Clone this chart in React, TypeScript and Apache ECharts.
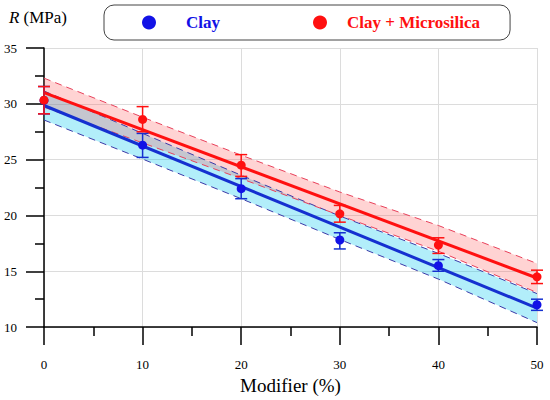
import React, { useEffect, useRef } from "react";
import * as echarts from "echarts";

const modifier = [0, 10, 20, 30, 40, 50];

const clayR = [30.3, 26.3, 22.4, 17.8, 15.5, 12.0];
const clayErrLow = [29.1, 25.2, 21.5, 17.0, 15.0, 11.5];
const clayErrHigh = [31.55, 27.35, 23.3, 18.45, 16.05, 12.5];

const silicaR = [30.33, 28.6, 24.5, 20.15, 17.35, 14.5];
const silicaErrLow = [29.1, 27.5, 23.5, 19.4, 16.6, 13.9];
const silicaErrHigh = [31.55, 29.75, 25.45, 20.9, 18.0, 15.1];

const clayFitEnds = [29.85, 11.7];
const silicaFitEnds = [31.0, 14.4];

const clayBandLow = [28.55, 25.05, 21.5, 17.85, 14.3, 10.4];
const clayBandHigh = [31.15, 27.35, 23.6, 19.95, 16.6, 13.0];
const silicaBandLow = [29.7, 26.5, 23.3, 20.0, 16.8, 13.1];
const silicaBandHigh = [32.3, 28.8, 25.4, 22.1, 19.1, 15.7];

const xTicks = { min: 0, max: 50, interval: 10 };
const yTicks = { min: 10, max: 35, interval: 5 };

const BLUE = "#1212e6";
const BLUE_LINE = "#1530d0";
const RED = "#ff1010";
const FONT = "Liberation Serif";

function pairs(ys: number[]) {
  return modifier.map((x, i) => [x, ys[i]]);
}

function bandSeries(low: number[], high: number[], fill: string) {
  return {
    type: "custom",
    silent: true,
    data: modifier.map((x, i) => [x, low[i], high[i]]),
    encode: { x: 0, y: [1, 2] },
    renderItem: (params: any, api: any) => {
      if (params.dataIndex !== 0) return null;
      const top = modifier.map((x, i) => api.coord([x, high[i]]));
      const bot = modifier.map((x, i) => api.coord([x, low[i]])).reverse();
      return {
        type: "polygon",
        shape: { points: top.concat(bot) },
        style: { fill },
      };
    },
    z: 1,
  };
}

function dashed(ys: number[], color: string) {
  return {
    type: "line",
    data: pairs(ys),
    symbol: "none",
    silent: true,
    lineStyle: { color, width: 1, type: [7, 5] },
    z: 2,
  };
}

function fit(ends: number[], color: string) {
  return {
    type: "line",
    data: [
      [modifier[0], ends[0]],
      [modifier[modifier.length - 1], ends[1]],
    ],
    symbol: "none",
    silent: true,
    lineStyle: { color, width: 3 },
    z: 3,
  };
}

function errorBars(low: number[], high: number[], color: string) {
  return {
    type: "custom",
    silent: true,
    data: modifier.map((x, i) => [x, low[i], high[i]]),
    encode: { x: 0, y: [1, 2] },
    renderItem: (params: any, api: any) => {
      const x = api.value(0);
      const lo = api.coord([x, api.value(1)]);
      const hi = api.coord([x, api.value(2)]);
      const hw = 6;
      const style = { stroke: color, lineWidth: 1.5 };
      return {
        type: "group",
        children: [
          { type: "line", shape: { x1: lo[0], y1: lo[1], x2: hi[0], y2: hi[1] }, style },
          { type: "line", shape: { x1: hi[0] - hw, y1: hi[1], x2: hi[0] + hw, y2: hi[1] }, style },
          { type: "line", shape: { x1: lo[0] - hw, y1: lo[1], x2: lo[0] + hw, y2: lo[1] }, style },
        ],
      };
    },
    z: 4,
  };
}

export default function App() {
  const ref = useRef<HTMLDivElement>(null);
  useEffect(() => {
    if (!ref.current) return;
    const chart = echarts.init(ref.current, undefined, { renderer: "svg" });
    const axisCommon = {
      axisLine: { show: true, onZero: false, lineStyle: { color: "#000", width: 1.5 } },
      axisTick: { show: true, inside: false, length: 18, lineStyle: { color: "#000", width: 1.5 } },
      minorTick: { show: true, splitNumber: 2, length: 9, lineStyle: { color: "#000", width: 1.5 } },
      splitLine: { show: true, lineStyle: { color: "#dcdcdc", width: 1 } },
    };
    chart.setOption({
      animation: false,
      textStyle: { fontFamily: FONT },
      grid: { left: 44, right: 13, top: 48, bottom: 71 },
      legend: {
        left: 104,
        top: 5,
        orient: "horizontal",
        padding: [9, 30, 9, 38],
        itemGap: 93,
        itemWidth: 14,
        itemHeight: 14,
        borderColor: "#444",
        borderWidth: 1,
        borderRadius: 10,
        selectedMode: false,
        data: [
          {
            name: "Clay",
            icon: "circle",
            itemStyle: { color: BLUE, opacity: 1 },
            textStyle: { color: BLUE, fontWeight: "bold", fontSize: 17, fontFamily: FONT, padding: [0, 0, 0, 25] },
          },
          {
            name: "Clay + Microsilica",
            icon: "circle",
            itemStyle: { color: RED, opacity: 1 },
            textStyle: { color: RED, fontWeight: "bold", fontSize: 17, fontFamily: FONT, padding: [0, 0, 0, 15] },
          },
        ],
      },
      xAxis: {
        type: "value",
        min: xTicks.min,
        max: xTicks.max,
        interval: xTicks.interval,
        name: "Modifier (%)",
        nameLocation: "middle",
        nameGap: 57,
        nameTextStyle: { fontSize: 19, color: "#000", fontFamily: FONT, verticalAlign: "middle" },
        axisLabel: { fontSize: 13, color: "#000", margin: 31, fontFamily: FONT },
        ...axisCommon,
      },
      yAxis: {
        type: "value",
        min: yTicks.min,
        max: yTicks.max,
        interval: yTicks.interval,
        name: "{i|R} (MPa)",
        nameLocation: "end",
        nameGap: 31,
        nameTextStyle: {
          fontSize: 17,
          color: "#000",
          fontFamily: FONT,
          align: "center",
          verticalAlign: "middle",
          padding: [0, 12, 0, 0],
          rich: { i: { fontStyle: "italic", fontSize: 17, fontFamily: FONT, color: "#000" } },
        },
        axisLabel: { fontSize: 13, color: "#000", margin: 27, fontFamily: FONT },
        ...axisCommon,
      },
      series: [
        bandSeries(clayBandLow, clayBandHigh, "rgba(0,200,240,0.3)"),
        bandSeries(silicaBandLow, silicaBandHigh, "rgba(255,80,80,0.25)"),
        dashed(clayBandLow, "#3a3aa8"),
        dashed(clayBandHigh, "#3a3aa8"),
        dashed(silicaBandLow, "#e8405a"),
        dashed(silicaBandHigh, "#e8405a"),
        fit(clayFitEnds, BLUE_LINE),
        fit(silicaFitEnds, RED),
        errorBars(clayErrLow, clayErrHigh, BLUE_LINE),
        {
          name: "Clay",
          type: "scatter",
          data: pairs(clayR),
          symbolSize: 9,
          itemStyle: { color: BLUE, opacity: 1 },
          z: 5,
        },
        errorBars(silicaErrLow, silicaErrHigh, RED),
        {
          name: "Clay + Microsilica",
          type: "scatter",
          data: pairs(silicaR),
          symbolSize: 9,
          itemStyle: { color: RED, opacity: 1 },
          z: 6,
        },
      ],
    });
    return () => chart.dispose();
  }, []);
  return (
    <div
      ref={ref}
      style={{ position: "absolute", left: 0, top: 0, width: 550, height: 400 }}
    />
  );
}
